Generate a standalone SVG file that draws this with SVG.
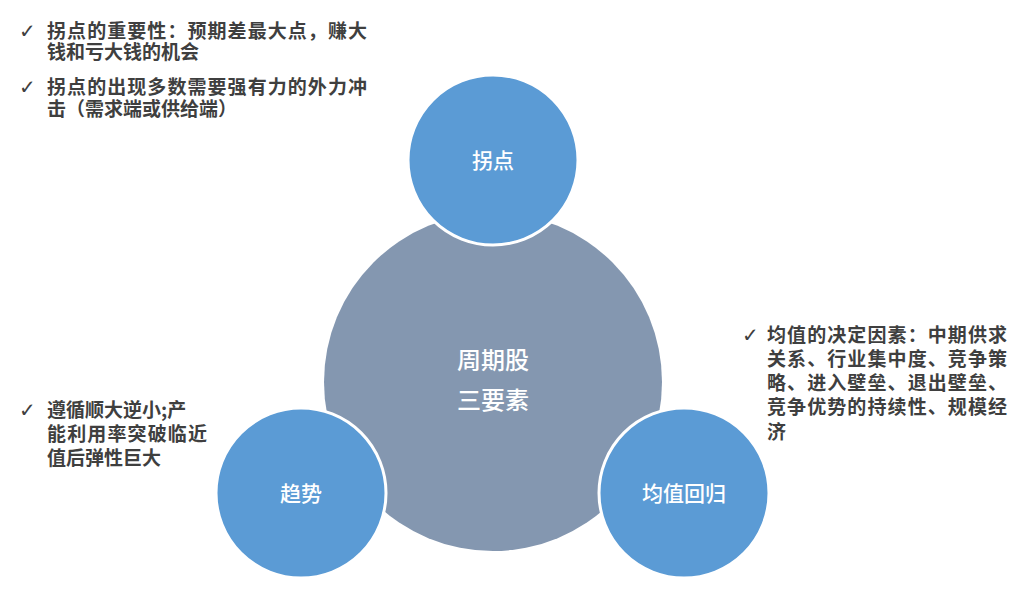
<svg xmlns="http://www.w3.org/2000/svg" width="1022" height="598" viewBox="0 0 1022 598">
<style>
.t{font-family:"Noto Sans CJK SC","Noto Sans CJK JP",sans-serif;font-size:19px;font-weight:bold;fill:#3f3f3f}
.ck{font-family:"DejaVu Sans",sans-serif;font-size:20px;fill:#3f3f3f}
.c{font-family:"Noto Sans CJK SC",sans-serif;fill:#ffffff;text-anchor:middle;font-weight:500}
.sm{fill:#5B9BD5;stroke:#ffffff;stroke-width:3}
</style>
<rect width="1022" height="598" fill="#ffffff"/>
<g id="center">
<circle cx="493" cy="382" r="169" fill="#8497B0"/>
<text class="c" font-size="24"><tspan x="493" y="369">周期股</tspan><tspan x="493" y="409">三要素</tspan></text>
</g>
<g id="node-guaidian">
<circle class="sm" cx="493" cy="160" r="85"/>
<text class="c" x="493" y="168" font-size="21">拐点</text>
</g>
<g id="node-qushi">
<circle class="sm" cx="301" cy="493" r="85"/>
<text class="c" x="301" y="501" font-size="21">趋势</text>
</g>
<g id="node-junzhi">
<circle class="sm" cx="684" cy="493" r="85"/>
<text class="c" x="684" y="501" font-size="21">均值回归</text>
</g>
<g id="connectors"></g>
<g id="text-guaidian">
<text class="ck" x="19" y="38">✓</text>
<text class="t"><tspan x="47" y="38" textLength="320">拐点的重要性：预期差最大点，赚大</tspan><tspan x="47" y="59">钱和亏大钱的机会</tspan></text>
<text class="ck" x="19" y="94">✓</text>
<text class="t"><tspan x="47" y="94" textLength="320">拐点的出现多数需要强有力的外力冲</tspan><tspan x="47" y="116">击（需求端或供给端）</tspan></text>
</g>
<g id="text-junzhi">
<text class="ck" x="742" y="342">✓</text>
<text class="t"><tspan x="767" y="342" textLength="240">均值的决定因素：中期供求</tspan><tspan x="767" y="366" textLength="240">关系、行业集中度、竞争策</tspan><tspan x="767" y="390" textLength="240">略、进入壁垒、退出壁垒、</tspan><tspan x="767" y="414" textLength="240">竞争优势的持续性、规模经</tspan><tspan x="767" y="439">济</tspan></text>
</g>
<g id="text-qushi">
<text class="ck" x="19" y="417">✓</text>
<text class="t"><tspan x="47" y="417">遵循顺大逆小;产</tspan><tspan x="47" y="441" textLength="160">能利用率突破临近</tspan><tspan x="47" y="465">值后弹性巨大</tspan></text>
</g>
</svg>
